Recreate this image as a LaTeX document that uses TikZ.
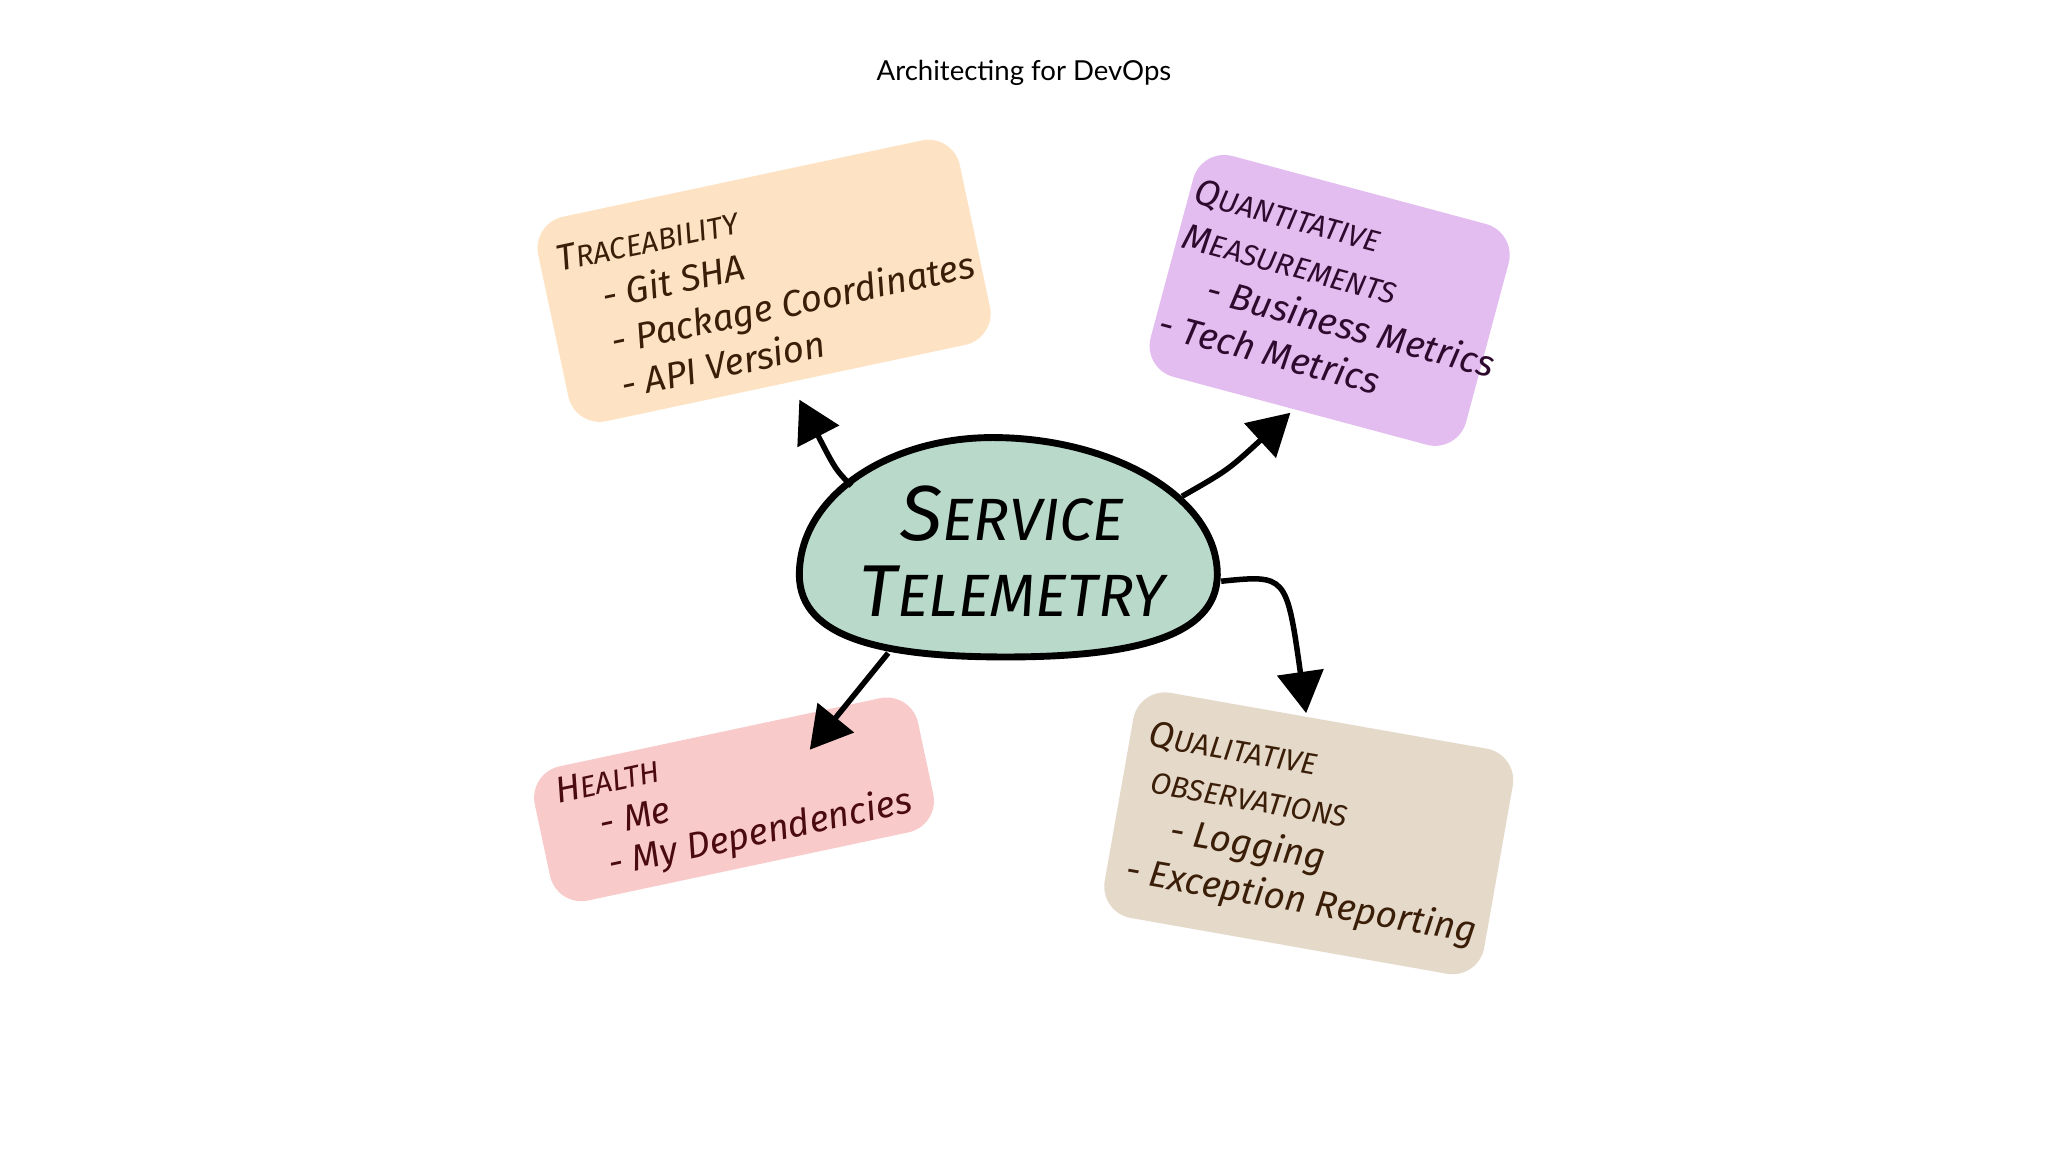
\documentclass[tikz,border=0pt]{standalone}
\usepackage{fontspec}
\setmainfont{Lato}
\newfontfamily\hand{Fira Sans}[ItalicFont={Fira Sans Italic}]
\usetikzlibrary{arrows.meta}
\definecolor{peach}{HTML}{FDE3C3}
\definecolor{lav}{HTML}{E3BDF0}
\definecolor{pinkb}{HTML}{F8CACA}
\definecolor{taupe}{HTML}{E5D9CA}
\definecolor{teal}{HTML}{B9D9CB}
\definecolor{ink}{HTML}{3A1E08}
\definecolor{inkp}{HTML}{2E0B2E}
\definecolor{inkr}{HTML}{4A0A10}
\tikzset{
 blob/.style={fill=#1, rounded corners=14pt, inner sep=0pt},
 htext/.style={font=\hand\itshape\fontsize{16}{20}\selectfont, align=left, text=#1},
 arr/.style={line width=2.4pt, -{Triangle[length=18pt,width=20pt]}}
}
\begin{document}
\begin{tikzpicture}[x=0.2mm,y=-0.2mm]
\useasboundingbox (0,0) rectangle (1568,882);
\fill[white] (0,0) rectangle (1568,882);
\node (title) at (784,56) {\fontsize{12}{14}\selectfont Architecting for DevOps};

% blobs
\node[blob=peach, minimum width=330*0.2mm, minimum height=160*0.2mm, rotate=12] (trb) at (585,215) {};
\node[blob=lav, minimum width=250*0.2mm, minimum height=175*0.2mm, rotate=-15] (qmb) at (1018,230) {};
\node[blob=pinkb, minimum width=300*0.2mm, minimum height=105*0.2mm, rotate=12] (hb) at (562,612) {};
\node[blob=taupe, minimum width=295*0.2mm, minimum height=175*0.2mm, rotate=-10] (qob) at (1002,638) {};

% texts
\node[htext=ink, rotate=12] (tr) at (590,218) {T\fontsize{13}{20}\selectfont RACEABILITY\\
\quad - Git SHA\\ \quad - Package Coordinates\\ \quad - API Version};
\node[htext=inkp, rotate=-15] (qm) at (1025,230) {Q\fontsize{13}{20}\selectfont UANTITATIVE\\
M\fontsize{13}{20}\selectfont EASUREMENTS\\
\quad - Business Metrics\\ - Tech Metrics};
\node[htext=inkr, rotate=12] (he) at (562,612) {H\fontsize{13}{20}\selectfont EALTH\\[-2pt]
\quad - Me\\[-2pt] \quad - My Dependencies};
\node[htext=ink, rotate=-10] (qo) at (1005,640) {Q\fontsize{13}{20}\selectfont UALITATIVE\\
\ \fontsize{13}{20}\selectfont OBSERVATIONS\\
\quad - Logging\\ - Exception Reporting};

% center
\path[draw=black, fill=teal, line width=3pt] (612,440)
 .. controls (612,380) and (680,335) .. (760,335)
 .. controls (850,335) and (932,380) .. (932,440)
 .. controls (932,490) and (860,503) .. (770,503)
 .. controls (680,503) and (612,490) .. (612,440) -- cycle;
\node[font=\hand\itshape, text=black, align=center] (st) at (775,422) {\fontsize{34}{36}\selectfont S\fontsize{26}{30}\selectfont ERVICE\\[10pt]
\fontsize{32}{34}\selectfont T\fontsize{26}{30}\selectfont ELEMETRY};

\coordinate (a1) at (652,372); \coordinate (t1) at (612,306);
\coordinate (a2) at (905,380); \coordinate (t2) at (988,316);
\coordinate (a3) at (935,445); \coordinate (t3) at (1000,546);
\coordinate (a4) at (680,500); \coordinate (t4) at (620,574);
\draw[arr] (a1) .. controls (640,360) .. (t1);
\draw[arr] (a2) .. controls (940,360) .. (t2);
\draw[arr] (a3) .. controls (985,440) .. (t3);
\draw[arr] (a4) -- (t4);
\end{tikzpicture}
\end{document}
